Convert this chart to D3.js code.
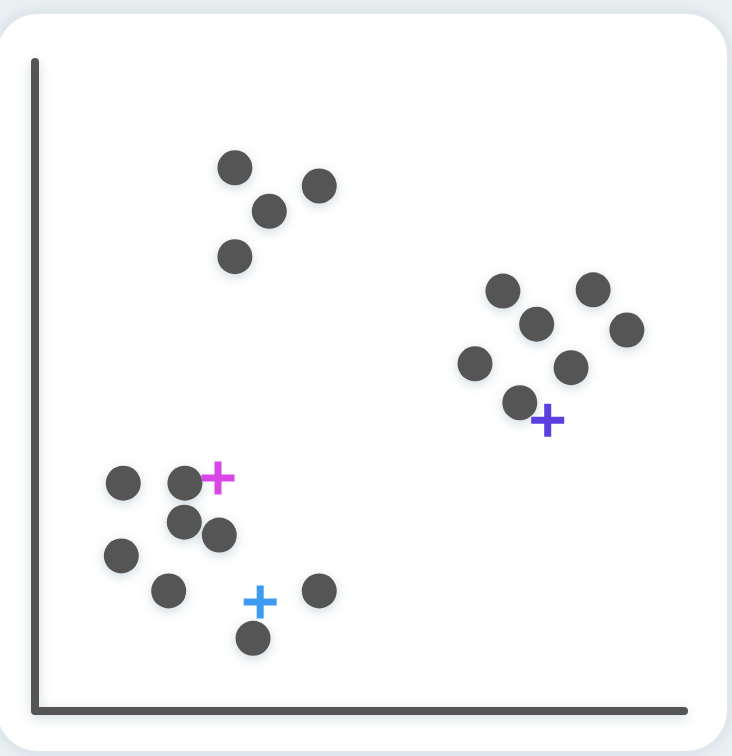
<!DOCTYPE html>
<html><head><meta charset="utf-8">
<script src="https://cdn.jsdelivr.net/npm/d3@7"></script>
<style>html,body{margin:0;padding:0;background:#eaf0f2;overflow:hidden}</style>
</head><body>
<svg id="c" width="732" height="756"></svg>
<script>
const pointsX = [3.08,4.38,3.61,3.08, 7.21,8.60,7.73,9.12,6.78,8.26,7.47, 1.36,2.31,2.30,2.84,1.33,2.06,4.38,3.36];
const pointsY = [8.37,8.09,7.70,7.00, 6.47,6.49,5.96,5.87,5.35,5.29,4.75, 3.51,3.51,2.91,2.71,2.39,1.85,1.85,1.12];
const centroidX = [2.82,3.47,7.90];
const centroidY = [3.59,1.68,4.48];
const centroidColors = ["#d946e6","#3d9cf2","#5c3fe0"];

const svg = d3.select("#c");
const defs = svg.append("defs");
const f = defs.append("filter").attr("id","glow").attr("x","-50%").attr("y","-50%").attr("width","200%").attr("height","200%");
f.append("feDropShadow").attr("dx",0).attr("dy",3).attr("stdDeviation",6).attr("flood-color","#8fa9b4").attr("flood-opacity",0.45);
const f2 = defs.append("filter").attr("id","cardglow").attr("x","-10%").attr("y","-10%").attr("width","120%").attr("height","120%");
f2.append("feDropShadow").attr("dx",0).attr("dy",0).attr("stdDeviation",6).attr("flood-color","#c6d4da").attr("flood-opacity",0.8);

svg.append("rect").attr("x",-4).attr("y",13).attr("width",732).attr("height",739).attr("rx",42)
  .attr("fill","#ffffff").attr("stroke","#dfe8ec").attr("stroke-width",2).attr("filter","url(#cardglow)");

const x = d3.scaleLinear().domain([0,10]).range([35,684]);
const y = d3.scaleLinear().domain([0,10]).range([711,62]);

const axisG = svg.append("g").attr("filter","url(#glow)");
axisG.append("path")
  .attr("d", d3.line()([[x(0),y(10)],[x(0),y(0)],[x(10),y(0)]]))
  .attr("fill","none").attr("stroke","#555555").attr("stroke-width",8)
  .attr("stroke-linecap","round").attr("stroke-linejoin","round");

svg.append("g").attr("filter","url(#glow)")
  .selectAll("circle").data(pointsX.map((v,i)=>[v,pointsY[i]])).join("circle")
  .attr("cx",d=>x(d[0])).attr("cy",d=>y(d[1])).attr("r",17.5).attr("fill","#555555");

const plus = svg.append("g");
centroidX.forEach((cx,i)=>{
  const px = x(cx), py = y(centroidY[i]), s = 16.5;
  plus.append("path")
    .attr("d", `M${px-s},${py}H${px+s}M${px},${py-s}V${py+s}`)
    .attr("stroke",centroidColors[i]).attr("stroke-width",7).attr("fill","none");
});
</script>
</body></html>
